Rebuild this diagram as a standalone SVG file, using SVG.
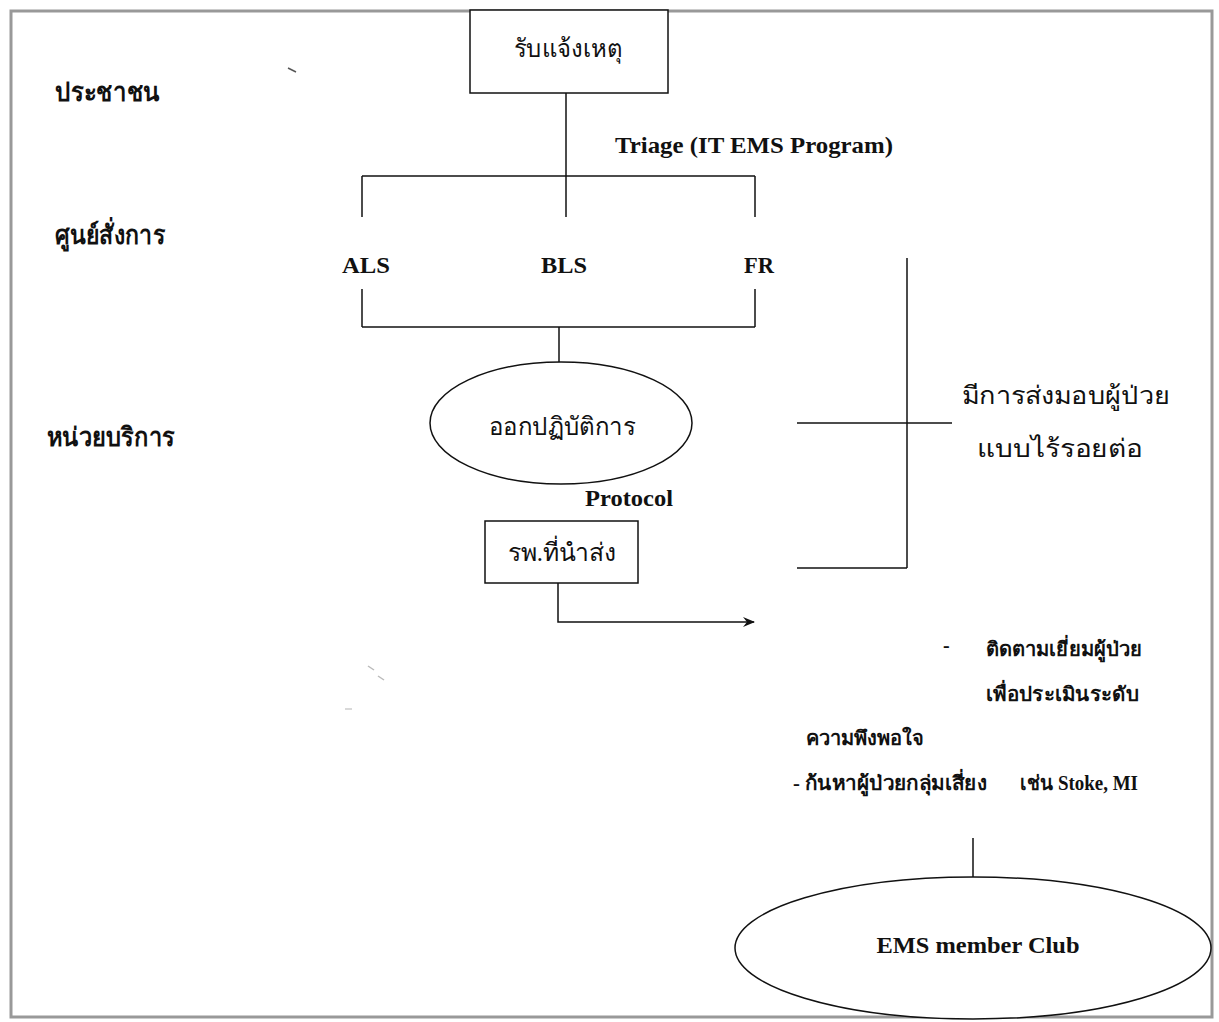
<svg xmlns="http://www.w3.org/2000/svg" width="1219" height="1022" viewBox="0 0 1219 1022">
<defs>
<marker id="arr" viewBox="0 0 12 10" refX="11" refY="5" markerWidth="12" markerHeight="10" markerUnits="userSpaceOnUse" orient="auto">
<path d="M0,0 L12,5 L0,10 L4,5 Z" fill="#111"/>
</marker>
<style>
.ln{stroke:#111;stroke-width:1.5;fill:none}
.shape{stroke:#111;stroke-width:1.5;fill:#fff}
.th{font-family:"Liberation Serif","DejaVu Sans",serif;font-size:25px;fill:#111}
.thl{font-family:"Liberation Serif","DejaVu Sans",serif;font-size:26px;fill:#111;font-weight:bold}
.thb{font-family:"Liberation Serif","DejaVu Sans",serif;font-size:20px;font-weight:bold;fill:#111}
.en{font-family:"Liberation Serif",serif;font-size:23px;font-weight:bold;fill:#111}
</style>
</defs>
<rect x="0" y="0" width="1219" height="1022" fill="#fff"/>
<rect x="11" y="11" width="1201" height="1006" fill="none" stroke="#999" stroke-width="3"/>

<g id="labels-left">
<text class="thl" x="55" y="101" textLength="105" lengthAdjust="spacingAndGlyphs">ประชาชน</text>
<text class="thl" x="55" y="244" textLength="110" lengthAdjust="spacingAndGlyphs">ศูนย์สั่งการ</text>
<text class="thl" x="47" y="446" textLength="128" lengthAdjust="spacingAndGlyphs">หน่วยบริการ</text>
</g>

<g id="connectors">
<line class="ln" x1="566" y1="93" x2="566" y2="176"/>
<line class="ln" x1="362" y1="176" x2="755" y2="176"/>
<line class="ln" x1="362" y1="176" x2="362" y2="217"/>
<line class="ln" x1="566" y1="176" x2="566" y2="217"/>
<line class="ln" x1="755" y1="176" x2="755" y2="217"/>
<line class="ln" x1="362" y1="289" x2="362" y2="327"/>
<line class="ln" x1="755" y1="289" x2="755" y2="327"/>
<line class="ln" x1="362" y1="327" x2="755" y2="327"/>
<line class="ln" x1="559" y1="327" x2="559" y2="362"/>
<polyline class="ln" points="558,583 558,622 754,622" marker-end="url(#arr)"/>
<line class="ln" x1="907" y1="258" x2="907" y2="568"/>
<line class="ln" x1="797" y1="423" x2="952" y2="423"/>
<line class="ln" x1="797" y1="568" x2="907" y2="568"/>
<line class="ln" x1="973" y1="838" x2="973" y2="877" stroke-width="2.5"/>
<line x1="288" y1="68" x2="296" y2="72" stroke="#555" stroke-width="1.5"/>
<line x1="368" y1="666" x2="374" y2="670" stroke="#bbb" stroke-width="1.5"/>
<line x1="378" y1="676" x2="384" y2="680" stroke="#bbb" stroke-width="1.5"/>
<line x1="345" y1="709" x2="352" y2="709" stroke="#ccc" stroke-width="1.5"/>
</g>

<g id="node-receive">
<rect class="shape" x="470" y="10" width="198" height="83"/>
<text class="th" x="568" y="57" text-anchor="middle" textLength="108" lengthAdjust="spacingAndGlyphs">รับแจ้งเหตุ</text>
</g>

<g id="label-triage">
<text class="en" x="615" y="153" textLength="278" lengthAdjust="spacingAndGlyphs">Triage (IT EMS Program)</text>
</g>

<g id="node-als"><text class="en" x="342" y="273" textLength="48" lengthAdjust="spacingAndGlyphs">ALS</text></g>
<g id="node-bls"><text class="en" x="541" y="273" textLength="46" lengthAdjust="spacingAndGlyphs">BLS</text></g>
<g id="node-fr"><text class="en" x="744" y="273" textLength="30" lengthAdjust="spacingAndGlyphs">FR</text></g>

<g id="node-operate">
<ellipse class="shape" cx="561" cy="423" rx="131" ry="61"/>
<text class="th" x="562" y="435" text-anchor="middle" textLength="146" lengthAdjust="spacingAndGlyphs">ออกปฏิบัติการ</text>
</g>

<g id="label-protocol">
<text class="en" x="585" y="506" textLength="88" lengthAdjust="spacingAndGlyphs" font-size="21">Protocol</text>
</g>

<g id="node-hospital">
<rect class="shape" x="485" y="521" width="153" height="62"/>
<text class="th" x="562" y="561" text-anchor="middle" textLength="108" lengthAdjust="spacingAndGlyphs">รพ.ที่นำส่ง</text>
</g>

<g id="node-handover">
<text class="th" x="962" y="404" textLength="208" lengthAdjust="spacingAndGlyphs">มีการส่งมอบผู้ป่วย</text>
<text class="th" x="977" y="457" textLength="166" lengthAdjust="spacingAndGlyphs">แบบไร้รอยต่อ</text>
</g>

<g id="node-followup">
<text class="thb" x="943" y="652">-</text>
<text class="thb" x="986" y="656" textLength="156" lengthAdjust="spacingAndGlyphs">ติดตามเยี่ยมผู้ป่วย</text>
<text class="thb" x="986" y="701" textLength="153" lengthAdjust="spacingAndGlyphs">เพื่อประเมินระดับ</text>
<text class="thb" x="806" y="745" textLength="118" lengthAdjust="spacingAndGlyphs">ความพึงพอใจ</text>
<text class="thb" x="793" y="790" textLength="194" lengthAdjust="spacingAndGlyphs">- ก้นหาผู้ป่วยกลุ่มเสี่ยง</text>
<text class="thb" x="1020" y="790" textLength="118" lengthAdjust="spacingAndGlyphs">เช่น Stoke, MI</text>
</g>

<g id="node-club">
<ellipse class="shape" cx="973" cy="948" rx="238" ry="71"/>
<text class="en" x="978" y="953" text-anchor="middle" textLength="203" lengthAdjust="spacingAndGlyphs" font-size="20">EMS member Club</text>
</g>
</svg>
